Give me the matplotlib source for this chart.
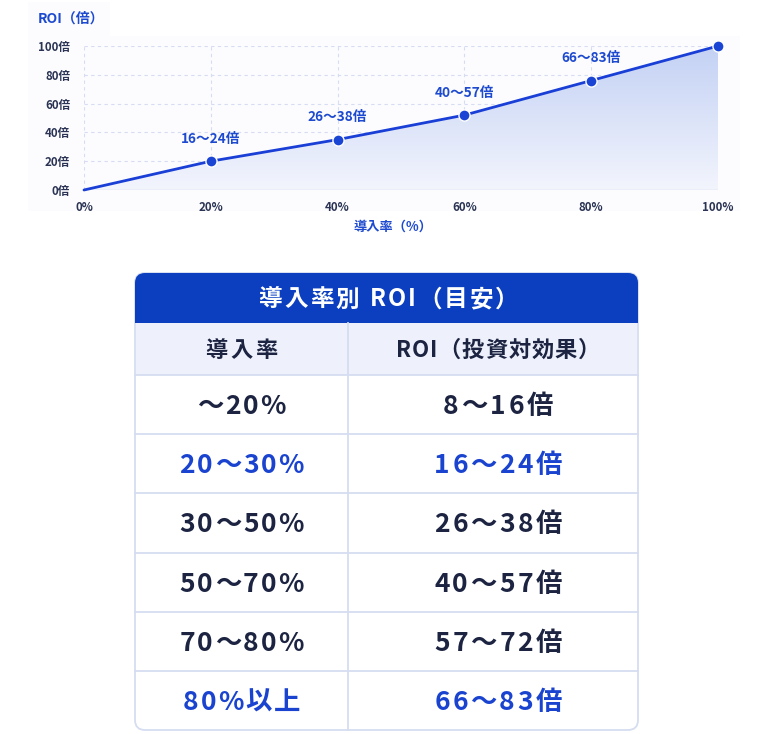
import matplotlib
matplotlib.use('Agg')
import matplotlib.pyplot as plt
from matplotlib.patches import FancyBboxPatch, Rectangle, Polygon
from matplotlib.font_manager import FontProperties
from matplotlib.colors import LinearSegmentedColormap
import numpy as np

FAM = ['Noto Sans CJK JP', 'DejaVu Sans']
plt.rcParams['font.family'] = FAM

# ---------------- data ----------------
adoption_pct = [0, 20, 40, 60, 80, 100]
roi_values = [0, 20, 35, 52, 76, 100]
point_labels = ['', '16～24倍', '26～38倍', '40～57倍', '66～83倍', '']
x_tick_labels = ['0%', '20%', '40%', '60%', '80%', '100%']
y_ticks = [0, 20, 40, 60, 80, 100]
y_tick_labels = ['0倍', '20倍', '40倍', '60倍', '80倍', '100倍']

table_title = '導入率別 ROI（目安）'
table_headers = ['導入率', 'ROI（投資対効果）']
table_rates = ['～20%', '20～30%', '30～50%', '50～70%', '70～80%', '80%以上']
table_rois = ['8～16倍', '16～24倍', '26～38倍', '40～57倍', '57～72倍', '66～83倍']
table_highlight = [False, True, False, False, False, True]

# ---------------- colours ----------------
BLUE = '#1a3fd6'
LABEL_BLUE = '#1d4acf'
NAVY = '#1c2442'
TICK = '#2b3454'
GRID = '#d6ddf3'
BORDER = '#d6ddf0'
HEAD = '#0b3fc0'

W, H = 768, 734
fig = plt.figure(figsize=(W / 100, H / 100), dpi=100)
fig.patch.set_facecolor('white')

bg = fig.add_axes([0, 0, 1, 1])
bg.set_xlim(0, W)
bg.set_ylim(H, 0)
bg.axis('off')
bg.set_zorder(0)

# faint chart panel
bg.add_patch(Rectangle((28, 36), 712, 175, facecolor='#fcfcfe', edgecolor='none'))
bg.add_patch(Rectangle((28, 2), 82, 34, facecolor='#fcfcfe', edgecolor='none'))

# ---------------- chart ----------------
ax = fig.add_axes([84 / W, 1 - 190 / H, 634 / W, 144 / H])
ax.set_zorder(1)
ax.patch.set_alpha(0)

x = np.array(adoption_pct, dtype=float)
y = np.array(roi_values, dtype=float)

grad = np.linspace(0, 1, 256).reshape(-1, 1)
cmap = LinearSegmentedColormap.from_list('g', ['#f3f5fd', '#c3d1f4'])
im = ax.imshow(grad, extent=[0, 100, 0, 100], origin='lower', cmap=cmap,
               aspect='auto', zorder=1)
poly = Polygon(np.column_stack([np.r_[x, x[-1], x[0]], np.r_[y, 0, 0]]),
               closed=True, facecolor='none', edgecolor='none', transform=ax.transData)
ax.add_patch(poly)
im.set_clip_path(poly)

ax.plot(x, y, color=BLUE, lw=2.0, zorder=3, clip_on=False, solid_capstyle='round')
ax.plot(x[1:], y[1:], 'o', ms=8, mfc='#1a44d4', mec='white', mew=1.0, zorder=4, clip_on=False)

for xi, yi, lab in zip(x, y, point_labels):
    if lab:
        ax.annotate(lab, (xi, yi), xytext=(0, 16), textcoords='offset points',
                    ha='center', va='center', fontsize=9.8, color=LABEL_BLUE,
                    fontweight='bold')

ax.set_xlim(0, 100)
ax.set_ylim(0, 100)
ax.set_xticks(adoption_pct)
ax.set_xticklabels(x_tick_labels)
ax.set_yticks(y_ticks)
ax.set_yticklabels(y_tick_labels)
ax.tick_params(axis='both', length=0, labelsize=8.3, labelcolor=TICK)
ax.tick_params(axis='y', pad=10)
ax.tick_params(axis='x', pad=8)
for t in ax.get_xticklabels() + ax.get_yticklabels():
    t.set_fontweight('bold')
ax.grid(True, ls=(0, (3, 3)), color=GRID, lw=0.8, zorder=0)
ax.set_axisbelow(True)
for s in ax.spines.values():
    s.set_visible(False)
ax.axhline(0, color='#d0d8ef', lw=1.0, zorder=2)

bg.text(38, 19, 'ROI（倍）', ha='left', va='center', fontsize=10,
        color=LABEL_BLUE, fontweight='bold')
bg.text(393, 227, '導入率（%）', ha='center', va='center', fontsize=9.5,
        color=LABEL_BLUE, fontweight='bold')

# ---------------- table ----------------
renderer = fig.canvas.get_renderer()


def tracked(xc, yc, s, size, color, track, weight='bold'):
    fp = FontProperties(family=FAM, size=size, weight=weight)
    em = size * 100 / 72
    ws = []
    for c in s:
        if c == ' ':
            ws.append(em * 0.3)
        else:
            ws.append(renderer.get_text_width_height_descent(c, fp, ismath=False)[0])
    total = sum(ws) + track * (len(s) - 1)
    xx = xc - total / 2
    base = yc + 0.36 * em
    for c, w in zip(s, ws):
        if c != ' ':
            bg.text(xx, base, c, fontproperties=fp, color=color, ha='left', va='baseline')
        xx += w + track


TL, TR, TT, TB = 135, 638, 273, 730
DIV = 348
HEAD_B = 323
COLH_B = 375
ROW_H = (TB - COLH_B) / len(table_rates)

bg.add_patch(FancyBboxPatch((TL, TT), TR - TL, TB - TT,
                            boxstyle='round,pad=0,rounding_size=10',
                            facecolor='white', edgecolor=BORDER, lw=1.3, zorder=1))
bg.add_patch(FancyBboxPatch((TL, TT), TR - TL, HEAD_B - TT,
                            boxstyle='round,pad=0,rounding_size=10',
                            facecolor=HEAD, edgecolor='none', zorder=2))
bg.add_patch(Rectangle((TL, TT + 20), TR - TL, HEAD_B - TT - 20,
                       facecolor=HEAD, edgecolor='none', zorder=2))
bg.add_patch(Rectangle((TL + 0.7, HEAD_B), TR - TL - 1.4, COLH_B - HEAD_B,
                       facecolor='#eef1fb', edgecolor='none', zorder=2))

for i in range(len(table_rates)):
    yl = COLH_B + i * ROW_H
    bg.plot([TL, TR], [yl, yl], color=BORDER, lw=1.3, zorder=3)
bg.plot([DIV, DIV], [HEAD_B, TB], color=BORDER, lw=1.3, zorder=3)

tracked((TL + TR) / 2 + 2, (TT + HEAD_B) / 2, table_title, 17, 'white', 2)
tracked((TL + DIV) / 2, (HEAD_B + COLH_B) / 2, table_headers[0], 16, NAVY, 3)
tracked((DIV + TR) / 2 + 5, (HEAD_B + COLH_B) / 2, table_headers[1], 16, NAVY, 1)

for i, (r, v, hl) in enumerate(zip(table_rates, table_rois, table_highlight)):
    yc = COLH_B + (i + 0.5) * ROW_H
    col = '#1a44d0' if hl else NAVY
    tracked((TL + DIV) / 2, yc, r, 19, col, 2)
    tracked((DIV + TR) / 2 + 5, yc, v, 19, col, 2.5)

fig.savefig('out.png', dpi=100, facecolor='white')
